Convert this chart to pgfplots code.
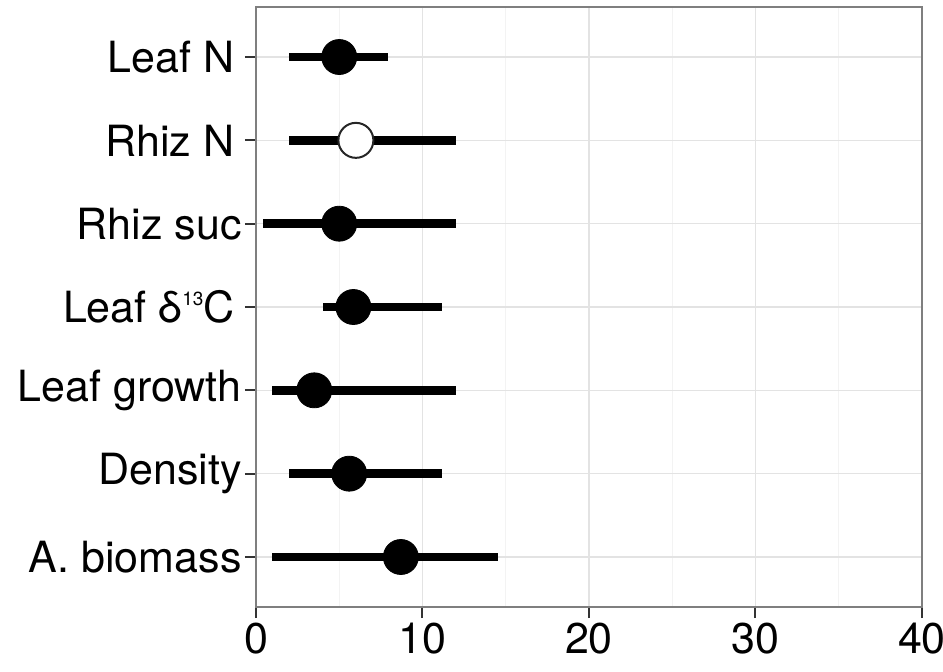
\documentclass[border=0pt]{standalone}
\usepackage{fontspec}
\setmainfont{TeX Gyre Heros}
\usepackage{pgfplots}
\pgfplotsset{compat=1.18}
\definecolor{gridmaj}{HTML}{E3E3E3}
\definecolor{gridmin}{HTML}{F3F3F3}
\definecolor{frame}{HTML}{7F7F7F}
\definecolor{tickc}{HTML}{333333}
\newcommand{\supthirteen}{\raisebox{8.6pt}{\fontsize{9.5}{9.5}\selectfont 13}}
\begin{document}
\fontsize{21}{25}\selectfont
\begin{tikzpicture}
\begin{axis}[
  scale only axis,
  width=333pt, height=300pt,
  xmin=0, xmax=40, ymin=0.4, ymax=7.6,
  xtick={0,10,20,30,40},
  minor xtick={5,15,25,35},
  ytick={1,2,3,4,5,6,7},
  yticklabels={A. biomass, Density, Leaf growth, Leaf δ\supthirteen C\,, Rhiz suc, Rhiz N\,, Leaf N\,},
  xtick pos=bottom, ytick pos=left,
  xmajorgrids, ymajorgrids, xminorgrids,
  major grid style={gridmaj, line width=0.6pt},
  minor grid style={gridmin, line width=0.6pt},
  axis line style={frame, line width=1pt},
  tick align=outside,
  major tick length=5.5pt,
  minor tick length=0pt,
  every tick/.style={tickc, line width=1pt},
  tick label style={font=\fontsize{21.5}{25}\selectfont, black, inner sep=1.5pt},
  xticklabel style={yshift=-1pt},
  /pgf/number format/assume math mode=true,
  clip=false,
]
\addplot[draw=none, mark=none,
  error bars/.cd, x dir=both, x explicit, error mark=none,
  error bar style={draw=black, line width=4.3pt}]
  table[x=x, y=y, x error plus=ep, x error minus=em] {
x    y  ep    em
5.0  7  2.9   3.0
6.0  6  6.0   4.0
5.0  5  7.0   4.55
5.85 4  5.3   1.85
3.5  3  8.5   2.55
5.6  2  5.55  3.6
8.7  1  5.85  7.75
};
\addplot[only marks, mark=*, mark size=8.75pt, black, mark options={fill=black, draw=black}]
  table[x=x, y=y] {
x    y
5.0  7
5.0  5
5.85 4
3.5  3
5.6  2
8.7  1
};
\addplot[only marks, mark=*, mark size=8.75pt, mark options={fill=white, draw=black!85, line width=1pt}]
  table[x=x, y=y] {
x    y
6.0  6
};
\end{axis}
\pgfresetboundingbox
\path[use as bounding box] (current axis.south west) ++(-128pt,-32pt) rectangle ++(471.5pt,335.5pt);
\end{tikzpicture}
\end{document}
